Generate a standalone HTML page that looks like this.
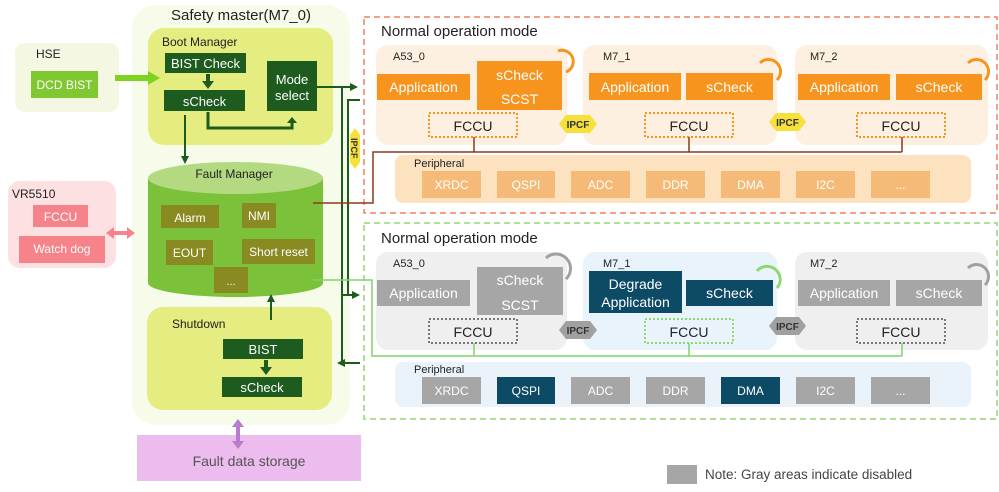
<!DOCTYPE html>
<html><head><meta charset="utf-8"><style>
html,body{margin:0;padding:0;background:#fff;}
svg{display:block;font-family:"Liberation Sans",Arial,sans-serif;}
</style></head><body>
<svg width="999" height="492" viewBox="0 0 999 492" xmlns="http://www.w3.org/2000/svg">
<defs>
<marker id="ag" markerWidth="8" markerHeight="8" refX="6" refY="4" orient="auto" markerUnits="userSpaceOnUse"><path d="M0,0 L8,4 L0,8 z" fill="#1d5b1f"/></marker>
<marker id="ao" markerWidth="8" markerHeight="8" refX="4" refY="4" orient="auto" markerUnits="userSpaceOnUse"><path d="M0,0 L8,4 L0,8 z" fill="#f7941d"/></marker>
<marker id="agr" markerWidth="8" markerHeight="8" refX="4" refY="4" orient="auto" markerUnits="userSpaceOnUse"><path d="M0,0 L8,4 L0,8 z" fill="#a0a0a0"/></marker>
<marker id="alg" markerWidth="8" markerHeight="8" refX="4" refY="4" orient="auto" markerUnits="userSpaceOnUse"><path d="M0,0 L8,4 L0,8 z" fill="#8fd870"/></marker>
</defs>

<!-- Safety master -->
<rect x="132" y="5" width="218" height="420" rx="24" fill="#f6fbea"/>
<text x="241" y="20" font-size="15" text-anchor="middle" fill="#222">Safety master(M7_0)</text>

<!-- Boot manager -->
<rect x="148" y="28" width="185" height="117" rx="16" fill="#e5ec80"/>
<text x="162" y="46" font-size="12" fill="#222">Boot Manager</text>
<rect x="165" y="53" width="81" height="20" fill="#1d5b1f"/>
<text x="205.5" y="68" font-size="13" fill="#fff" text-anchor="middle">BIST Check</text>
<rect x="164" y="90" width="81" height="21" fill="#1d5b1f"/>
<text x="204.5" y="106" font-size="13" fill="#fff" text-anchor="middle">sCheck</text>
<rect x="267" y="61" width="50" height="50" fill="#1d5b1f"/>
<text x="292" y="84" font-size="13" fill="#fff" text-anchor="middle">Mode</text>
<text x="292" y="100" font-size="13" fill="#fff" text-anchor="middle">select</text>
<path d="M208,74 V82" stroke="#1d5b1f" stroke-width="4"/><path d="M202,81 L214,81 L208,89 z" fill="#1d5b1f"/>
<path d="M208,112 V128 H292 V122" stroke="#1d5b1f" stroke-width="3" fill="none"/><path d="M287,123 L297,123 L292,117 z" fill="#1d5b1f"/>
<path d="M185,115 V162" stroke="#1d5b1f" stroke-width="2" marker-end="url(#ag)"/>

<!-- HSE -->
<rect x="15" y="43" width="104" height="69" rx="10" fill="#f4f8e2"/>
<text x="36" y="58" font-size="12" fill="#222">HSE</text>
<rect x="31" y="71" width="67" height="27" fill="#80c832"/>
<text x="64.5" y="89" font-size="12" fill="#fff" text-anchor="middle">DCD BIST</text>
<path d="M115,78 H150" stroke="#7ed321" stroke-width="6"/><path d="M148,71 L160,78 L148,85 z" fill="#7ed321"/>

<!-- VR5510 -->
<rect x="8" y="181" width="108" height="87" rx="12" fill="#fde0e2"/>
<text x="12" y="198" font-size="12" fill="#222">VR5510</text>
<rect x="33" y="205" width="55" height="22" fill="#f6838a"/>
<text x="60.5" y="221" font-size="12" fill="#fff" text-anchor="middle">FCCU</text>
<rect x="19" y="236" width="86" height="27" fill="#f6838a"/>
<text x="62" y="253" font-size="12" fill="#fff" text-anchor="middle">Watch dog</text>
<path d="M113,233 H128" stroke="#f6838a" stroke-width="4"/><path d="M114,227 L106,233 L114,239 z M127,227 L135,233 L127,239 z" fill="#f6838a"/>

<!-- Fault manager cylinder -->
<path d="M148,178 V283 A87.5,14 0 0 0 323,283 V178 z" fill="#7cc13a"/>
<ellipse cx="235.5" cy="178" rx="87.5" ry="16" fill="#b3da80"/>
<text x="234" y="178" font-size="12" fill="#222" text-anchor="middle">Fault Manager</text>
<rect x="161" y="205" width="58" height="23" fill="#8a8a22"/><text x="190" y="222" font-size="12" fill="#fff" text-anchor="middle">Alarm</text>
<rect x="242" y="203" width="34" height="25" fill="#8a8a22"/><text x="259" y="220" font-size="12" fill="#fff" text-anchor="middle">NMI</text>
<rect x="166" y="240" width="47" height="25" fill="#8a8a22"/><text x="189.5" y="257" font-size="12" fill="#fff" text-anchor="middle">EOUT</text>
<rect x="242" y="239" width="73" height="25" fill="#8a8a22"/><text x="278.5" y="256" font-size="12" fill="#fff" text-anchor="middle">Short reset</text>
<rect x="214" y="267" width="34" height="26" fill="#8a8a22"/><text x="231" y="285" font-size="11" fill="#fff" text-anchor="middle">...</text>

<!-- Shutdown -->
<rect x="147" y="307" width="185" height="103" rx="16" fill="#e5ec80"/>
<text x="172" y="328" font-size="12" fill="#222">Shutdown</text>
<rect x="223" y="339" width="80" height="20" fill="#1d5b1f"/><text x="263" y="354" font-size="13" fill="#fff" text-anchor="middle">BIST</text>
<rect x="222" y="377" width="80" height="20" fill="#1d5b1f"/><text x="262" y="392" font-size="13" fill="#fff" text-anchor="middle">sCheck</text>
<path d="M266,360 V368" stroke="#1d5b1f" stroke-width="4"/><path d="M260,367 L272,367 L266,375 z" fill="#1d5b1f"/>
<path d="M271,320 V296" stroke="#1d5b1f" stroke-width="2" marker-end="url(#ag)"/>

<!-- Fault data storage -->
<rect x="137" y="435" width="224" height="46" fill="#ecbcee"/>
<text x="249" y="466" font-size="14" fill="#555" text-anchor="middle">Fault data storage</text>
<path d="M238,425 V443" stroke="#b77ccd" stroke-width="4"/><path d="M232,427 L238,419 L244,427 z M232,441 L238,449 L244,441 z" fill="#b77ccd"/>

<!-- dark green bus -->
<path d="M317,87 H356" stroke="#1d5b1f" stroke-width="2" marker-end="url(#ag)"/>
<path d="M342,87 V363" stroke="#1d5b1f" stroke-width="2" fill="none"/>
<path d="M360,100 H348 V295" stroke="#1d5b1f" stroke-width="2" fill="none"/>
<path d="M342,295 H358" stroke="#1d5b1f" stroke-width="2" marker-end="url(#ag)"/>
<path d="M360,363 H339" stroke="#1d5b1f" stroke-width="2" marker-end="url(#ag)"/>
<!-- vertical IPCF -->
<path d="M355,128 L360,135 L360,162 L355,169 L350,162 L350,135 z" fill="#f5e13a"/>
<text x="351" y="138" font-size="9" font-weight="bold" fill="#333" transform="rotate(90 351 138)">IPCF</text>

<!-- TOP orange dashed -->
<rect x="364" y="17" width="633" height="196" fill="none" stroke="#f08060" stroke-width="1.5" stroke-dasharray="6,4"/>
<text x="381" y="36" font-size="15" fill="#222">Normal operation mode</text>
<rect x="376" y="45" width="191" height="100" rx="12" fill="#fdf0e0"/>
<rect x="583" y="45" width="194" height="100" rx="12" fill="#fdf0e0"/>
<rect x="795" y="45" width="193" height="100" rx="12" fill="#fdf0e0"/>
<text x="393" y="60" font-size="11" fill="#222">A53_0</text>
<text x="603" y="60" font-size="11" fill="#222">M7_1</text>
<text x="810" y="60" font-size="11" fill="#222">M7_2</text>
<g fill="#f7941d">
<rect x="377" y="74" width="93" height="26"/><rect x="477" y="61" width="85" height="49"/>
<rect x="589" y="73" width="92" height="27"/><rect x="686" y="73" width="87" height="27"/>
<rect x="798" y="74" width="92" height="26"/><rect x="896" y="74" width="86" height="26"/>
</g>
<g fill="#fff" font-size="14" text-anchor="middle">
<text x="423.5" y="92">Application</text><text x="519.5" y="80">sCheck</text><text x="519.5" y="104">SCST</text>
<text x="635" y="92">Application</text><text x="729.5" y="92">sCheck</text>
<text x="844" y="92">Application</text><text x="939" y="92">sCheck</text>
</g>
<g fill="none" stroke="#f7941d" stroke-width="3">
<path d="M558,51 A9,9 0 0 1 566,72"/>
<path d="M760,63 A9,9 0 0 1 777,80"/>
<path d="M968,63 A9,9 0 0 1 985,80"/>
</g>
<g fill="none" stroke="#f7941d" stroke-width="2" stroke-dasharray="2,2">
<rect x="429" y="113" width="88" height="24"/><rect x="645" y="113" width="88" height="24"/><rect x="857" y="113" width="88" height="24"/>
</g>
<g font-size="14" fill="#222" text-anchor="middle"><text x="473" y="131">FCCU</text><text x="689" y="131">FCCU</text><text x="901" y="131">FCCU</text></g>
<g fill="#f5e13a"><path d="M559,124 L566,115 L590,115 L597,124 L590,133 L566,133 z"/><path d="M769,122 L776,113 L799,113 L806,122 L799,131 L776,131 z"/></g>
<g font-size="10" font-weight="bold" fill="#333" text-anchor="middle"><text x="578" y="128">IPCF</text><text x="787.5" y="126">IPCF</text></g>
<path d="M313,203 H373 V152 H902 M474,137 V152 M689,137 V152 M902,137 V152" stroke="#8b3a1a" stroke-width="1.5" fill="none"/>
<rect x="395" y="155" width="576" height="48" rx="8" fill="#fde2c0"/>
<text x="414" y="167" font-size="11" fill="#222">Peripheral</text>
<g fill="#f6ba78"><rect x="422" y="171" width="59" height="27"/><rect x="497" y="171" width="58" height="27"/><rect x="571" y="171" width="59" height="27"/><rect x="646" y="171" width="59" height="27"/><rect x="721" y="171" width="59" height="27"/><rect x="796" y="171" width="59" height="27"/><rect x="871" y="171" width="59" height="27"/></g>
<g fill="#fff" font-size="12" text-anchor="middle"><text x="451.5" y="189">XRDC</text><text x="526" y="189">QSPI</text><text x="600.5" y="189">ADC</text><text x="675.5" y="189">DDR</text><text x="750.5" y="189">DMA</text><text x="825.5" y="189">I2C</text><text x="900.5" y="189">...</text></g>

<!-- BOTTOM green dashed -->
<rect x="364" y="223" width="633" height="196" fill="none" stroke="#8fd870" stroke-width="1.5" stroke-dasharray="6,4"/>
<text x="381" y="243" font-size="15" fill="#222">Normal operation mode</text>
<rect x="376" y="252" width="191" height="98" rx="12" fill="#efefef"/>
<rect x="583" y="252" width="194" height="98" rx="12" fill="#e8f3fb"/>
<rect x="795" y="252" width="193" height="98" rx="12" fill="#efefef"/>
<text x="393" y="267" font-size="11" fill="#222">A53_0</text>
<text x="603" y="267" font-size="11" fill="#222">M7_1</text>
<text x="810" y="267" font-size="11" fill="#222">M7_2</text>
<rect x="377" y="280" width="93" height="26" fill="#a6a6a6"/><rect x="477" y="267" width="86" height="48" fill="#a6a6a6"/>
<rect x="589" y="271" width="93" height="42" fill="#0d4a66"/><rect x="686" y="280" width="87" height="26" fill="#0d4a66"/>
<rect x="798" y="280" width="92" height="26" fill="#a6a6a6"/><rect x="896" y="280" width="86" height="26" fill="#a6a6a6"/>
<g fill="#fff" font-size="14" text-anchor="middle">
<text x="423.5" y="298">Application</text><text x="520" y="285">sCheck</text><text x="520" y="310">SCST</text>
<text x="635.5" y="289">Degrade</text><text x="635.5" y="307">Application</text><text x="729.5" y="298">sCheck</text>
<text x="844" y="298">Application</text><text x="939" y="298">sCheck</text>
</g>
<g fill="none" stroke-width="3">
<path d="M546,258 A9,9 0 0 1 566,279" stroke="#a0a0a0"/>
<path d="M757,271 A9,9 0 0 1 777,288" stroke="#8fd870"/>
<path d="M968,268 A9,9 0 0 1 985,285" stroke="#a0a0a0"/>
</g>
<g fill="none" stroke-width="2" stroke-dasharray="2,2">
<rect x="429" y="319" width="88" height="24" stroke="#777"/><rect x="645" y="319" width="88" height="24" stroke="#8fd870"/><rect x="857" y="319" width="88" height="24" stroke="#777"/>
</g>
<g font-size="14" fill="#222" text-anchor="middle"><text x="473" y="337">FCCU</text><text x="689" y="337">FCCU</text><text x="901" y="337">FCCU</text></g>
<g fill="#a0a0a0"><path d="M559,330 L566,321 L590,321 L597,330 L590,339 L566,339 z"/><path d="M769,326 L776,317 L799,317 L806,326 L799,335 L776,335 z"/></g>
<g font-size="10" font-weight="bold" fill="#333" text-anchor="middle"><text x="578" y="334">IPCF</text><text x="787.5" y="330">IPCF</text></g>
<path d="M313,280 H372 V356 H902 M474,343 V356 M689,343 V356 M902,343 V356" stroke="#7ed36a" stroke-width="1.5" fill="none"/>
<rect x="395" y="362" width="576" height="45" rx="8" fill="#eaf3fa"/>
<text x="414" y="373" font-size="11" fill="#222">Peripheral</text>
<g><rect x="422" y="377" width="59" height="27" fill="#a6a6a6"/><rect x="497" y="377" width="58" height="27" fill="#0d4a66"/><rect x="571" y="377" width="59" height="27" fill="#a6a6a6"/><rect x="646" y="377" width="59" height="27" fill="#a6a6a6"/><rect x="721" y="377" width="59" height="27" fill="#0d4a66"/><rect x="796" y="377" width="59" height="27" fill="#a6a6a6"/><rect x="871" y="377" width="59" height="27" fill="#a6a6a6"/></g>
<g fill="#fff" font-size="12" text-anchor="middle"><text x="451.5" y="395">XRDC</text><text x="526" y="395">QSPI</text><text x="600.5" y="395">ADC</text><text x="675.5" y="395">DDR</text><text x="750.5" y="395">DMA</text><text x="825.5" y="395">I2C</text><text x="900.5" y="395">...</text></g>

<!-- Note -->
<rect x="667" y="465" width="30" height="19" fill="#a6a6a6"/>
<text x="705" y="479" font-size="13.5" fill="#444">Note: Gray areas indicate disabled</text>
</svg>
</body></html>
